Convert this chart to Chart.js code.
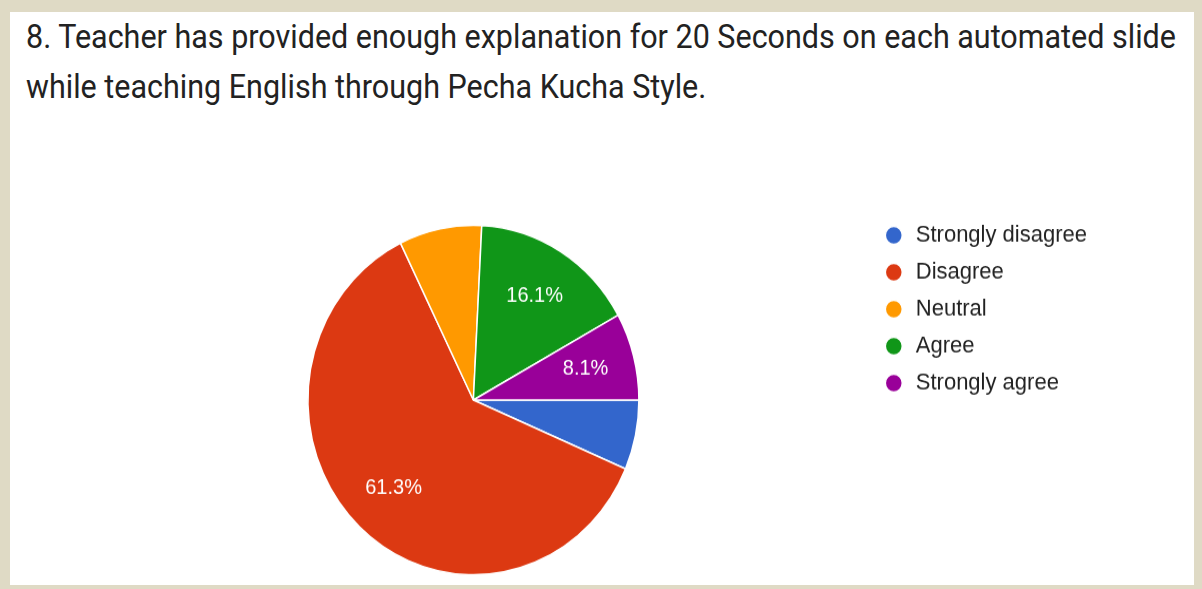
<!DOCTYPE html>
<html>
<head>
<meta charset="utf-8">
<script src="https://cdn.jsdelivr.net/npm/chart.js@4/dist/chart.umd.min.js"></script>
<style>
  html, body { margin: 0; padding: 0; }
  body { width: 1202px; height: 589px; background: #dfdac5; position: relative; overflow: hidden; }
  .panel { position: absolute; left: 10px; top: 12px; width: 1184px; height: 573px; background: #fff; }
  .title { position: absolute; left: 26px; font-family: Roboto, sans-serif; font-size: 30.5px; line-height: 1; color: #222;
           white-space: nowrap; transform: scaleY(1.1); transform-origin: 0 0; }
  #pie { position: absolute; left: 77px; top: 209.6px; }
</style>
</head>
<body>
<div class="panel"></div>
<div class="title" style="top: 19.8px">8. Teacher has provided enough explanation for 20 Seconds on each automated slide</div>
<div class="title" style="top: 69.8px">while teaching English through Pecha Kucha Style.</div>
<canvas id="pie" width="1020" height="360" style="width: 1020px; height: 380.5px"></canvas>
<script>
const categories = ['Strongly disagree', 'Disagree', 'Neutral', 'Agree', 'Strongly agree'];
const responses = [4, 38, 5, 10, 5];
const sliceColors = ['#3366cc', '#dc3912', '#ff9900', '#109618', '#990099'];
const labelled = [false, true, false, true, true];

const total = responses.reduce((a, b) => a + b, 0);

// percent text inside the bigger slices, like Google Forms does
const pctLabels = {
    id: 'pctLabels',
    afterDatasetsDraw(chart) {
        const {ctx} = chart;
        const meta = chart.getDatasetMeta(0);
        ctx.save();
        ctx.fillStyle = '#fff';
        ctx.font = '20px "Liberation Sans", Arial, sans-serif';
        ctx.textAlign = 'center';
        ctx.textBaseline = 'middle';
        meta.data.forEach((arc, i) => {
            if (!labelled[i]) return;
            const mid = (arc.startAngle + arc.endAngle) / 2;
            const r = arc.outerRadius * 0.7;
            const pct = (responses[i] / total * 100).toFixed(1) + '%';
            ctx.fillText(pct, arc.x + Math.cos(mid) * r, arc.y + Math.sin(mid) * r);
        });
        ctx.restore();
    }
};

new Chart(document.getElementById('pie'), {
    type: 'pie',
    data: {
        labels: categories,
        datasets: [{
            data: responses,
            backgroundColor: sliceColors,
            borderColor: '#fff',
            borderWidth: 1.5,
            radius: 165.5
        }]
    },
    options: {
        responsive: false,
        animation: false,
        rotation: 90,
        layout: {padding: 0},
        plugins: {
            tooltip: {enabled: false},
            legend: {
                position: 'right',
                align: 'start',
                labels: {
                    usePointStyle: true,
                    pointStyle: 'circle',
                    boxHeight: 12,
                    padding: 13,
                    color: '#222',
                    font: {family: '"Liberation Sans", Arial, sans-serif', size: 22}
                }
            }
        }
    },
    plugins: [pctLabels]
});
</script>
</body>
</html>
